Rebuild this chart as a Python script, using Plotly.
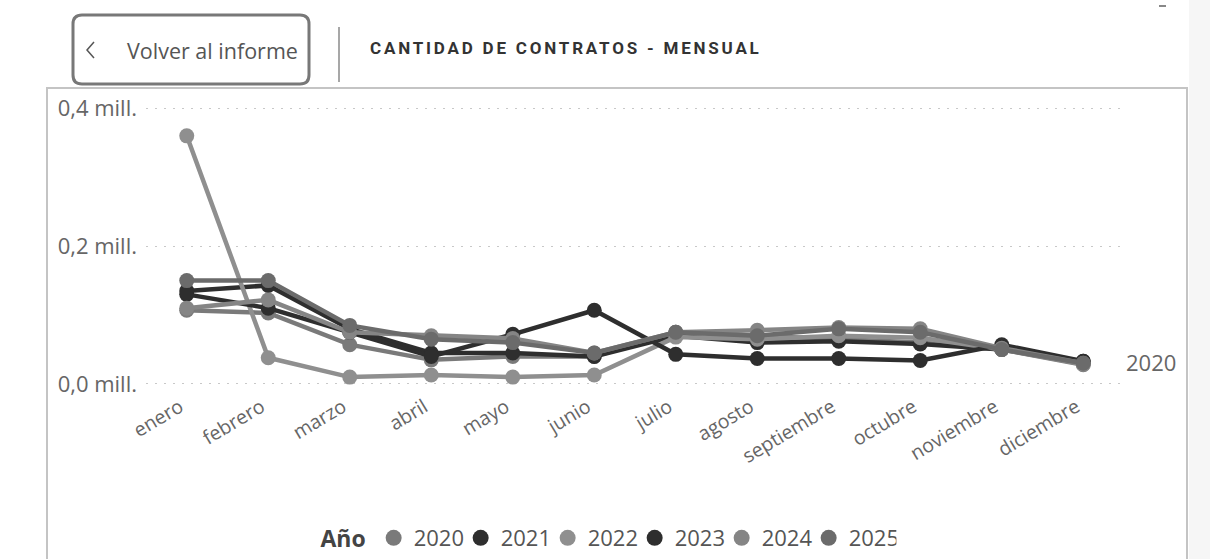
import plotly.graph_objects as go

# ---------------- data ----------------
months = ["enero", "febrero", "marzo", "abril", "mayo", "junio", "julio",
          "agosto", "septiembre", "octubre", "noviembre", "diciembre"]
years = ["2020", "2021", "2022", "2023", "2024", "2025"]

v2020 = [0.107, 0.103, 0.057, 0.035, 0.040, 0.040, 0.075, 0.070, 0.065, 0.060, 0.050, 0.028]
v2021 = [0.135, 0.143, 0.080, 0.045, 0.045, 0.040, 0.070, 0.060, 0.062, 0.058, 0.050, 0.033]
v2022 = [0.360, 0.038, 0.010, 0.013, 0.010, 0.013, 0.068, 0.065, 0.070, 0.067, 0.050, 0.029]
v2023 = [0.130, 0.110, 0.075, 0.040, 0.072, 0.107, 0.043, 0.037, 0.037, 0.034, 0.057, 0.033]
v2024 = [0.110, 0.122, 0.075, 0.070, 0.066, 0.045, 0.075, 0.078, 0.082, 0.080, 0.052, 0.030]
v2025 = [0.150, 0.150, 0.085, 0.065, 0.060, 0.045, 0.075, 0.070, 0.080, 0.075, 0.050, 0.030]
series = [v2020, v2021, v2022, v2023, v2024, v2025]

colors = ["#7a7a7a", "#2e2e2e", "#8f8f8f", "#2e2e2e", "#858585", "#6b6b6b"]

ytick_vals = [0, 0.2, 0.4]
ytick_text = ["0,0 mill.", "0,2 mill.", "0,4 mill."]

title_text = "CANTIDAD DE CONTRATOS - MENSUAL"
back_text = "Volver al informe"
legend_title = "Año"
end_label = "2020"

# ---------------- layout geometry ----------------
W, H = 1210, 559
ML, MR, MT, MB = 146, 86, 100, 164
PW = W - ML - MR
PH = H - MT - MB


def X(px):
    return (px - ML) / PW


def Y(py):
    return (H - MB - py) / PH


FONT = "Open Sans"

fig = go.Figure()

for yr, vals, col in zip(years, series, colors):
    fig.add_trace(go.Scatter(
        x=months, y=vals, mode="lines+markers", name=yr,
        line=dict(color=col, width=4.5),
        marker=dict(color=col, size=15),
        showlegend=False, hoverinfo="skip",
    ))

# legend-only entries (circles only)
for yr, col in zip(years, colors):
    fig.add_trace(go.Scatter(
        x=[None], y=[None], mode="markers", name=yr,
        marker=dict(color=col, size=16), showlegend=True,
    ))

shapes = []
# outer frame of the visual
shapes.append(dict(type="rect", xref="paper", yref="paper",
                   x0=X(47), x1=X(1187), y0=Y(565), y1=Y(88),
                   line=dict(color="#c4c4c4", width=2), fillcolor="rgba(0,0,0,0)",
                   layer="below"))
# right light strip
shapes.append(dict(type="rect", xref="paper", yref="paper",
                   x0=X(1189), x1=X(1215), y0=Y(565), y1=Y(-5),
                   line=dict(width=0), fillcolor="#f6f6f6", layer="below"))

# rounded button
bx0, bx1, by0, by1, r = 73, 309, 15, 84, 9
path = (f"M {X(bx0 + r)},{Y(by0)} L {X(bx1 - r)},{Y(by0)} "
        f"Q {X(bx1)},{Y(by0)} {X(bx1)},{Y(by0 + r)} "
        f"L {X(bx1)},{Y(by1 - r)} Q {X(bx1)},{Y(by1)} {X(bx1 - r)},{Y(by1)} "
        f"L {X(bx0 + r)},{Y(by1)} Q {X(bx0)},{Y(by1)} {X(bx0)},{Y(by1 - r)} "
        f"L {X(bx0)},{Y(by0 + r)} Q {X(bx0)},{Y(by0)} {X(bx0 + r)},{Y(by0)} Z")
shapes.append(dict(type="path", xref="paper", yref="paper", path=path,
                   line=dict(color="#787878", width=3), fillcolor="white"))
# chevron
shapes.append(dict(type="path", xref="paper", yref="paper",
                   path=f"M {X(94)},{Y(42)} L {X(87)},{Y(50)} L {X(94)},{Y(58)}",
                   line=dict(color="#555555", width=1.5)))
# separator
shapes.append(dict(type="line", xref="paper", yref="paper",
                   x0=X(339), x1=X(339), y0=Y(27), y1=Y(82),
                   line=dict(color="#8a8a8a", width=1.5)))
# tiny dash top right
shapes.append(dict(type="line", xref="paper", yref="paper",
                   x0=X(1159), x1=X(1166), y0=Y(6), y1=Y(6),
                   line=dict(color="#888888", width=2)))

annotations = [
    dict(xref="paper", yref="paper", x=X(125), y=Y(51), text=back_text,
         showarrow=False, xanchor="left", yanchor="middle",
         font=dict(family=FONT, size=21.5, color="#555555")),
    dict(xref="paper", yref="paper", x=X(368), y=Y(48),
         text=f"<span style='letter-spacing:2.8px'><b>{title_text}</b></span>",
         showarrow=False, xanchor="left", yanchor="middle",
         font=dict(family="Roboto", size=17, color="#333333")),
    dict(xref="x", yref="y", x=months[-1], y=v2020[-1], text=end_label,
         showarrow=False, xanchor="left", yanchor="middle", xshift=41, yshift=3,
         font=dict(family=FONT, size=22, color="#666666")),
]

fig.update_layout(
    width=W, height=H,
    margin=dict(l=ML, r=MR, t=MT, b=MB),
    paper_bgcolor="white", plot_bgcolor="white",
    font=dict(family=FONT, color="#666666"),
    shapes=shapes, annotations=annotations,
    showlegend=True,
    legend=dict(orientation="h", xref="container", yref="container",
                x=0.502, xanchor="center", y=(H - 538) / H, yanchor="middle",
                title=dict(text=f"<b>{legend_title}</b>",
                           font=dict(family=FONT, size=23, color="#444444")),
                font=dict(family=FONT, size=22, color="#555555"),
                itemwidth=30, tracegroupgap=0, entrywidth=42,
                bgcolor="rgba(0,0,0,0)"),
)

fig.update_xaxes(
    type="category", range=[-0.5, 11.5], showgrid=False, zeroline=False,
    showline=False, ticks="", tickangle=-31, ticklabelshift=-7,
    ticklabelstandoff=-4,
    tickfont=dict(family=FONT, size=19.5, color="#666666"),
)
fig.update_yaxes(
    range=[-0.016, 0.412], tickvals=ytick_vals, ticktext=ytick_text,
    showgrid=True, gridcolor="#c8c8c8", griddash="2px,7px", gridwidth=1.2,
    zeroline=False, showline=False, ticks="", ticklabelstandoff=8,
    tickfont=dict(family=FONT, size=22, color="#666666"),
)

fig.write_html("out.html", config={"displayModeBar": False},
               post_script="document.body.style.margin='0px';")
